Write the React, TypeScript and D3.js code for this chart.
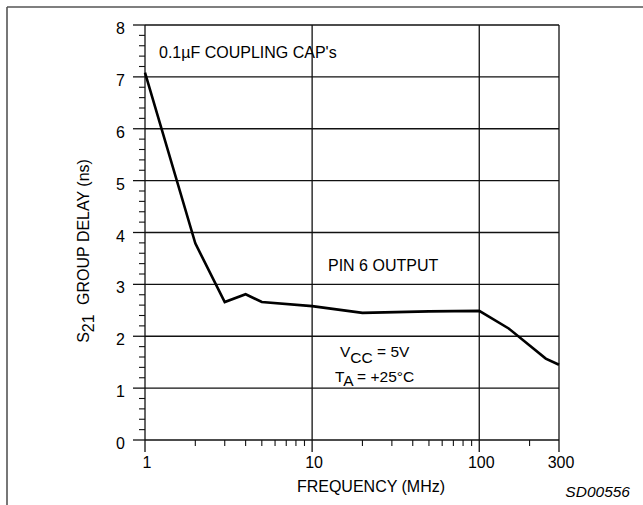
import React from "react";
import * as d3 from "d3";

// Data
const frequencyMHz = [1, 2, 3, 4, 5, 10, 20, 50, 100, 150, 250, 300];
const groupDelayNs = [7.08, 3.79, 2.66, 2.81, 2.66, 2.58, 2.45, 2.48, 2.49, 2.15, 1.57, 1.45];

const xMajorTicks = [1, 10, 100, 300];
const xTickLabels = ["1", "10", "100", "300"];
const xMinorTicks = [2, 3, 4, 5, 6, 7, 8, 9, 20, 30, 40, 50, 60, 70, 80, 90, 200];
const yMajorTicks = [0, 1, 2, 3, 4, 5, 6, 7, 8];
const yTickLabels = ["0", "1", "2", "3", "4", "5", "6", "7", "8"];
const yMinorStep = 0.2;

const W = 643;
const H = 505;
const FONT = "'Liberation Sans', Arial, Helvetica, sans-serif";

export default function App() {
  const x = d3.scaleLog().domain([1, 300]).range([145, 559]);
  const y = d3.scaleLinear().domain([0, 8]).range([440, 25]);
  const [x0, x1] = x.range();
  const [y0, y1] = y.range();

  const yMinor = d3
    .range(0, 8 + 1e-9, yMinorStep)
    .filter((v) => Math.abs(v - Math.round(v)) > 1e-6);

  const line = d3
    .line<number>()
    .x((_, i) => x(frequencyMHz[i]))
    .y((d) => y(d));

  const gridColor = "#111";

  return (
    <svg
      width={W}
      height={H}
      style={{ position: "absolute", left: 0, top: 0, background: "#fff" }}
      fontFamily={FONT}
    >
      {/* outer frame */}
      <line x1={7} y1={7} x2={W} y2={7} stroke="#555" strokeWidth={1.6} />
      <line x1={7} y1={7} x2={7} y2={H} stroke="#555" strokeWidth={1.6} />

      {/* horizontal grid */}
      {yMajorTicks.map((v) => (
        <line key={"hg" + v} x1={x0} x2={x1} y1={y(v)} y2={y(v)} stroke={gridColor} strokeWidth={1.3} />
      ))}
      {/* vertical grid */}
      {xMajorTicks.map((v) => (
        <line key={"vg" + v} x1={x(v)} x2={x(v)} y1={y0} y2={y1} stroke={gridColor} strokeWidth={1.3} />
      ))}

      {/* y ticks */}
      {yMajorTicks.map((v) => (
        <line key={"yt" + v} x1={x0 - 12} x2={x0} y1={y(v)} y2={y(v)} stroke={gridColor} strokeWidth={1.3} />
      ))}
      {yMinor.map((v) => (
        <line key={"ym" + v} x1={x0 - 6} x2={x0} y1={y(v)} y2={y(v)} stroke={gridColor} strokeWidth={1.1} />
      ))}
      {/* x ticks */}
      {xMajorTicks.map((v) => (
        <line key={"xt" + v} x1={x(v)} x2={x(v)} y1={y0} y2={y0 + 12} stroke={gridColor} strokeWidth={1.3} />
      ))}
      {xMinorTicks.map((v) => (
        <line key={"xm" + v} x1={x(v)} x2={x(v)} y1={y0} y2={y0 + 6} stroke={gridColor} strokeWidth={1.1} />
      ))}

      {/* y tick labels */}
      {yMajorTicks.map((v, i) => (
        <text key={"yl" + v} x={x0 - 20} y={y(v) + 9} fontSize={16} textAnchor="end" fill="#000">
          {yTickLabels[i]}
        </text>
      ))}
      {/* x tick labels */}
      {xMajorTicks.map((v, i) => (
        <text key={"xl" + v} x={x(v) + 2} y={468} fontSize={16} textAnchor="middle" fill="#000">
          {xTickLabels[i]}
        </text>
      ))}

      {/* curve */}
      <path d={line(groupDelayNs) || ""} fill="none" stroke="#000" strokeWidth={2.6} strokeLinejoin="miter" />

      {/* annotations */}
      <text x={159} y={57.5} fontSize={16} fill="#000">
        0.1µF COUPLING CAP's
      </text>
      <text x={328} y={270.5} fontSize={16} fill="#000">
        PIN 6 OUTPUT
      </text>
      <text x={340} y={357} fontSize={15.5} fill="#000">
        V<tspan dy={6}>CC</tspan>
        <tspan dy={-6}> = 5V</tspan>
      </text>
      <text x={335} y={381.5} fontSize={15.5} fill="#000">
        T<tspan dy={4}>A</tspan>
        <tspan dy={-4}> = +25°C</tspan>
      </text>

      {/* axis titles */}
      <text x={371} y={491.5} fontSize={16} textAnchor="middle" fill="#000">
        FREQUENCY (MHz)
      </text>
      <text transform={`translate(89, 251) rotate(-90)`} fontSize={16} textAnchor="middle" fill="#000">
        S<tspan dy={5}>21</tspan>
        <tspan dy={-5} dx={5}> GROUP DELAY (ns)</tspan>
      </text>

      <text x={630} y={497} fontSize={15.5} fontStyle="italic" textAnchor="end" fill="#000">
        SD00556
      </text>
    </svg>
  );
}
